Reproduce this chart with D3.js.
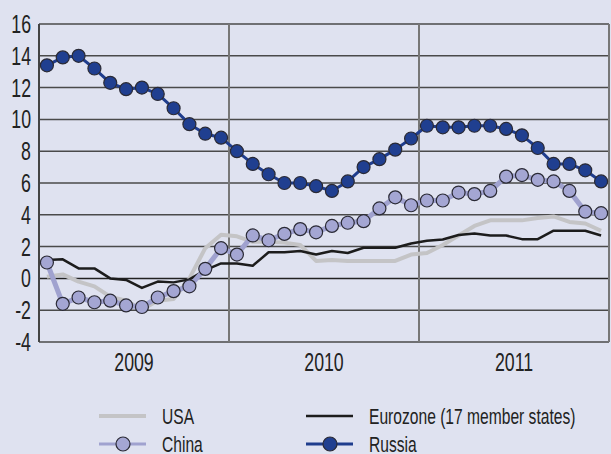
<!DOCTYPE html>
<html>
<head>
<meta charset="utf-8">
<script src="https://cdn.jsdelivr.net/npm/d3@7"></script>
<style>
  html, body { margin: 0; padding: 0; background: #dfe2f0; }
  svg { display: block; }
  text { font-family: "Liberation Sans", Arial, sans-serif; fill: #222; }
</style>
</head>
<body>
<svg id="chart" width="611" height="454"></svg>
<script>
const years = ["2009", "2010", "2011"];
const yTicks = [-4, -2, 0, 2, 4, 6, 8, 10, 12, 14, 16];

const usa = [0.1, 0.25, -0.2, -0.5, -1.15, -1.4, -1.95, -1.4, -1.3, 0.0, 1.9, 2.75,
    2.65, 2.3, 2.3, 2.25, 2.1, 1.1, 1.15, 1.1, 1.1, 1.1, 1.1, 1.5,
    1.6, 2.1, 2.7, 3.3, 3.65, 3.65, 3.65, 3.8, 3.9, 3.55, 3.45, 3.0];
const eurozone = [1.15, 1.2, 0.63, 0.63, 0.0, -0.1, -0.6, -0.2, -0.25, -0.06, 0.52, 0.94,
    0.94, 0.8, 1.64, 1.64, 1.72, 1.5, 1.72, 1.6, 1.93, 1.93, 1.93, 2.2,
    2.37, 2.45, 2.73, 2.83, 2.7, 2.7, 2.47, 2.47, 3.0, 3.0, 3.0, 2.7];
const china = [1.0, -1.6, -1.2, -1.5, -1.4, -1.7, -1.8, -1.2, -0.8, -0.5, 0.6, 1.9,
    1.5, 2.7, 2.4, 2.8, 3.1, 2.9, 3.3, 3.5, 3.6, 4.4, 5.1, 4.6,
    4.9, 4.9, 5.4, 5.3, 5.5, 6.4, 6.5, 6.2, 6.1, 5.5, 4.2, 4.1];
const russia = [13.4, 13.9, 14.0, 13.2, 12.3, 11.9, 12.0, 11.6, 10.7, 9.7, 9.1, 8.85,
    8.0, 7.2, 6.55, 6.0, 6.0, 5.8, 5.5, 6.1, 7.0, 7.5, 8.1, 8.8,
    9.6, 9.5, 9.5, 9.6, 9.6, 9.4, 9.0, 8.2, 7.2, 7.2, 6.8, 6.1];

const series = [
    { name: "USA", values: usa, color: "#c4c4c6", width: 4, marker: null },
    { name: "Eurozone (17 member states)", values: eurozone, color: "#1c1c1c", width: 2.5, marker: null },
    { name: "China", values: china, color: "#a0a2cf", width: 5, marker: "#a4a6d3" },
    { name: "Russia", values: russia, color: "#1f3d8d", width: 3, marker: "#203f90" }
];

const svg = d3.select("#chart");
const plot = { left: 39, right: 609, top: 24, bottom: 342 };
const sx = 0.71; // squeeze to mimic the condensed face of the original

const x = d3.scaleLinear().domain([0, 36]).range([plot.left, plot.right]);
const y = d3.scaleLinear().domain([-4, 16]).range([plot.bottom, plot.top]);

// condensed text helper
function label(g, px, py, txt, size, anchor) {
    return g.append("text")
        .attr("transform", `translate(${px},${py}) scale(${sx},1)`)
        .attr("text-anchor", anchor)
        .style("font-size", size + "px")
        .text(txt);
}

// horizontal grid lines
svg.append("g").selectAll("line")
    .data(yTicks)
    .enter().append("line")
    .attr("x1", plot.left).attr("x2", plot.right)
    .attr("y1", d => y(d)).attr("y2", d => y(d))
    .style("stroke", d => d === 0 ? "#222" : "#4a4a4a")
    .style("stroke-width", 1.5);

// year dividers + right border
svg.append("g").selectAll("line")
    .data([12, 24, 36])
    .enter().append("line")
    .attr("x1", d => x(d)).attr("x2", d => x(d))
    .attr("y1", plot.top).attr("y2", plot.bottom)
    .style("stroke", "#777")
    .style("stroke-width", 2);

// left axis
svg.append("line")
    .attr("x1", plot.left).attr("x2", plot.left)
    .attr("y1", plot.top).attr("y2", plot.bottom)
    .style("stroke", "#444")
    .style("stroke-width", 2);

// y labels
const yLab = svg.append("g");
yTicks.forEach(t => label(yLab, 31, y(t) + 9, t, 25, "end"));

// year labels
const xLab = svg.append("g");
years.forEach((yr, i) => label(xLab, x(i * 12 + 6), 371, yr, 25, "middle"));

// series
const line = d3.line()
    .x((d, i) => x(i + 0.5))
    .y(d => y(d));

series.forEach(s => {
    const g = svg.append("g");
    g.append("path")
        .datum(s.values)
        .attr("d", line)
        .style("fill", "none")
        .style("stroke", s.color)
        .style("stroke-width", s.width)
        .style("stroke-linejoin", "round");
    if (s.marker) {
        g.selectAll("circle")
            .data(s.values)
            .enter().append("circle")
            .attr("cx", (d, i) => x(i + 0.5))
            .attr("cy", d => y(d))
            .attr("r", 6.5)
            .style("fill", s.marker)
            .style("stroke", "#2a2a35")
            .style("stroke-width", 1.2);
    }
});

// legend
const legendPos = [
    { lx: 99, tx: 162, ly: 416 },
    { lx: 306, tx: 369, ly: 416 },
    { lx: 99, tx: 162, ly: 444 },
    { lx: 306, tx: 369, ly: 444 }
];
const legend = svg.append("g");
series.forEach((s, i) => {
    const p = legendPos[i];
    legend.append("line")
        .attr("x1", p.lx).attr("x2", p.lx + 47)
        .attr("y1", p.ly).attr("y2", p.ly)
        .style("stroke", s.color)
        .style("stroke-width", s.marker ? 3 : (i === 0 ? 4 : 2.5));
    if (s.marker) {
        legend.append("circle")
            .attr("cx", p.lx + 24).attr("cy", p.ly)
            .attr("r", 7)
            .style("fill", s.marker)
            .style("stroke", "#2a2a35")
            .style("stroke-width", 1.2);
    }
    label(legend, p.tx, p.ly + 7.5, s.name, 22, "start");
});
</script>
</body>
</html>
